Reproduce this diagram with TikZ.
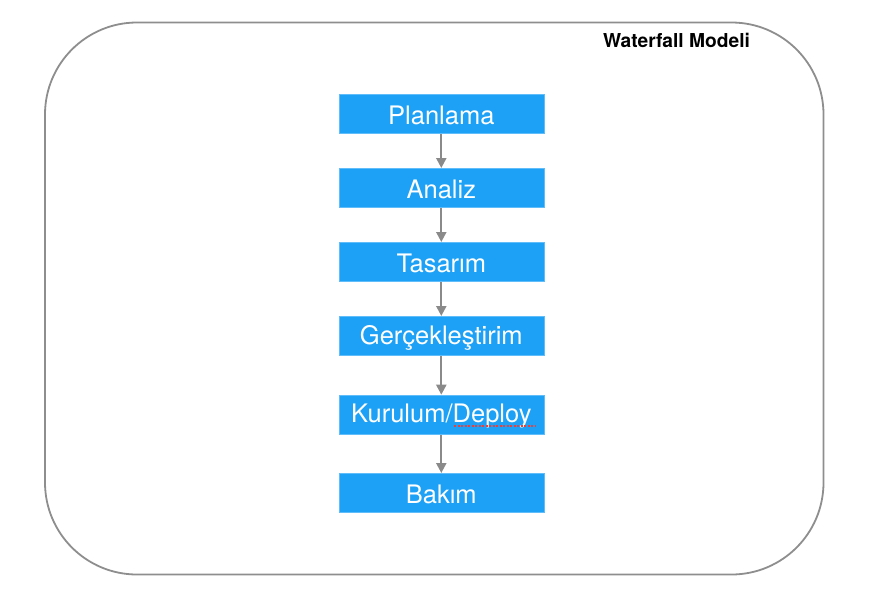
\documentclass[tikz,border=0pt]{standalone}
\usepackage{fontspec}
\setmainfont{TeX Gyre Heros}
\usetikzlibrary{arrows.meta}
\definecolor{boxblue}{HTML}{1DA1F7}
\definecolor{framegray}{HTML}{8E8E8E}
\definecolor{arrowgray}{HTML}{8A8A8A}
\definecolor{squiggle}{HTML}{E8403A}
\tikzset{
  stagebox/.style={fill=boxblue, draw=boxblue!70!white, line width=0.6pt, minimum width=205pt, minimum height=39pt, inner sep=0pt},
  stagetext/.style={text=white, font=\fontsize{25.5}{28}\selectfont, inner sep=0pt},
  flowarrow/.style={draw=arrowgray, line width=2.2pt, -{Triangle[length=10pt,width=10pt]}, shorten <=0.5pt}
}
\begin{document}
\begin{tikzpicture}[x=1pt,y=-1pt]
\useasboundingbox (0,0) rectangle (875,600);
\draw[framegray, line width=1.8pt, rounded corners=92pt] (45,22.5) rectangle (823.5,574.5);
\node[font=\bfseries\fontsize{19.2}{22}\selectfont, anchor=center] (title) at (676.5,40.5) {Waterfall Modeli};
\node[stagebox] (p) at (441.3,113.8) {};
\node[stagebox] (a) at (441.3,187.8) {};
\node[stagebox] (t) at (441.3,261.8) {};
\node[stagebox] (g) at (441.3,335.8) {};
\node[stagebox] (k) at (441.3,414.5) {};
\node[stagebox] (b) at (441.3,492.8) {};
\node[stagetext] (pl) at ([yshift=-1.8pt]p.center) {Planlama};
\node[stagetext] (al) at ([yshift=-1.8pt]a.center) {Analiz};
\node[stagetext] (tl) at ([yshift=-1.8pt]t.center) {Tasarım};
\node[stagetext] (gl) at ([yshift=-1.8pt]g.center) {Gerçekleştirim};
\node[stagetext] (kl) at ([yshift=-1.8pt]k.center) {Kurulum/Deploy};
\node[stagetext] (bl) at ([yshift=-1.8pt]b.center) {Bakım};
\draw[flowarrow] (p) -- (a);
\draw[flowarrow] (a) -- (t);
\draw[flowarrow] (t) -- (g);
\draw[flowarrow] (g) -- (k);
\draw[flowarrow] (k) -- (b);
\coordinate (sq1) at (454,426);
\coordinate (sq2) at (535,426);
\draw[squiggle, line width=1.6pt, dash pattern=on 2pt off 1.5pt] (sq1) -- (sq2);
\end{tikzpicture}
\end{document}
